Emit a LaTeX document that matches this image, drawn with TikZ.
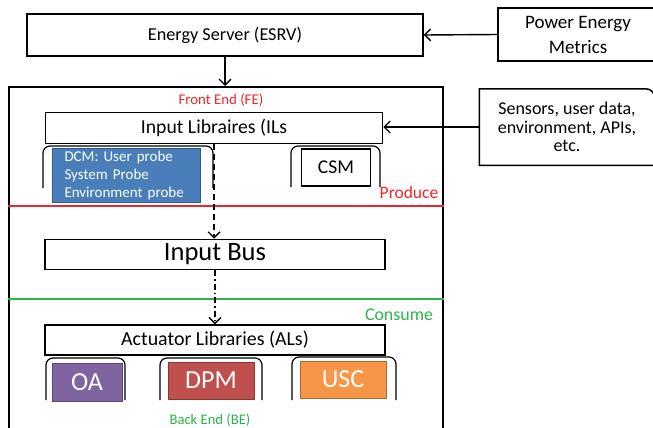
\documentclass[tikz,border=0pt]{standalone}
\usepackage{fontspec}
\setmainfont{Carlito}
\usetikzlibrary{arrows.meta, positioning, calc}
\definecolor{cblue}{HTML}{4A7EBB}
\definecolor{cpurple}{HTML}{8064A2}
\definecolor{cred}{HTML}{C0504D}
\definecolor{corange}{HTML}{F79646}
\definecolor{cfe}{HTML}{F0262A}
\definecolor{cbe}{HTML}{2DB34A}
\tikzset{
  every picture/.style={line width=1.5pt},
  box/.style={draw=black, fill=white, align=center, inner sep=2pt},
  libbox/.style={draw=#1!70!black, fill=#1, text=white, line width=1pt, inner sep=0pt},
  libbox/.default=cblue,
  holder/.style={draw=black, line width=1.2pt, rounded corners=7pt},
  arrow/.style={-{Straight Barb[length=6pt, width=12pt]}, draw=black, line width=1.4pt},
  fs/.style={font=\fontsize{#1}{#1}\selectfont},
}

\begin{document}
\begin{tikzpicture}[x=1pt, y=-1pt]
  \clip (0,0) rectangle (653,428);
  \node[box, fs=18.2, minimum width=396, minimum height=42] (esrv) at (225,35) {Energy Server (ESRV)};
  \node[box, font=\fontsize{19}{25}\selectfont, minimum width=160, minimum height=53] (pem) at (578,34.5)
    {Power Energy\\Metrics};
  \node[font=\fontsize{18}{18.5}\selectfont, minimum width=174, minimum height=75, align=center, inner sep=0pt] (sens) at (567,127)
    {Sensors, user data,\\environment, APIs,\\etc.};
  \draw (sens.south east) -- (sens.south west) -- (sens.north west) [rounded corners=9pt] -- (sens.north east) -- (sens.south east);
  \node[draw, minimum width=434, minimum height=360, anchor=north west] (fe) at (8,86) {};
  \draw[arrow] (pem.west) -- (esrv.east);
  \draw[arrow] (esrv.south) -- (esrv.south |- fe.north);
  \node[fs=14.8, text=cfe] (felab) at (221,100) {Front End (FE)};
  % front end
  \node[box, fs=19.7, minimum width=337, minimum height=31] (ils) at (214,128) {Input Libraires (ILs};
  \draw[arrow] (sens.west) -- (sens.west -| ils.east);
  \draw[holder] (43,188) -- (43,146) -- (213,146) -- (213,188);
  \node[libbox=cblue, anchor=north west, minimum height=54, text width=124pt, inner xsep=12pt, align=left,
    font=\fontsize{15}{17.7}\selectfont] (dcm) at (52,148)
    {DCM: User probe\\System Probe\\Environment probe};
  \draw[holder] (291,187) -- (291,146) -- (380,146) -- (380,187);
  \node[box, fs=19.5, minimum width=69, minimum height=37] (csm) at (336,167.5) {CSM};
  \node[fs=17.5, text=cfe] (prod) at (409,192) {Produce};
  \draw[cfe, line width=1.2pt] (fe.west |- 0,206) -- (fe.east |- 0,206);
  \node[box, fs=26.5, minimum width=340, minimum height=30] (bus) at (215,254.5) {Input Bus};
  \draw[arrow, dashed, dash pattern=on 6pt off 4pt] (ils.south) -- (ils.south |- bus.north);
  \draw[cbe, line width=1.2pt] (fe.west |- 0,299) -- (fe.east |- 0,299);
  \node[fs=17.9, text=cbe] (cons) at (399,315) {Consume};
  % back end
  \node[box, fs=19.9, minimum width=340, minimum height=30] (als) at (215,340) {Actuator Libraries (ALs)};
  \draw[arrow, dash pattern=on 6pt off 3pt on 1.5pt off 3pt] (bus.south) -- (bus.south |- als.north);
  \foreach \l/\r/\t in {46/125/358, 160/262/358, 292/396/357}
    \draw[holder] (\l,400) -- (\l,\t) -- (\r,\t) -- (\r,400);
  \node[libbox=cpurple, fs=26, minimum width=70, minimum height=38] (oa) at (87,382) {OA};
  \node[libbox=cred, fs=26, minimum width=86, minimum height=37] (dpm) at (211,380.5) {DPM};
  \node[libbox=corange, fs=26, minimum width=86, minimum height=37] (usc) at (343,379.5) {USC};
  \node[fs=14.6, text=cbe] (belab) at (210,420) {Back End (BE)};
\end{tikzpicture}
\end{document}
